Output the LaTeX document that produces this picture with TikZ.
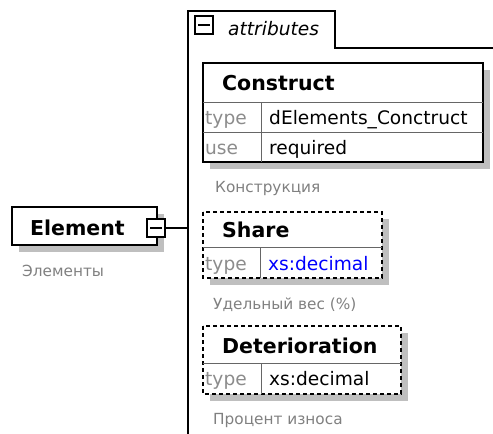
\documentclass[tikz,border=0pt]{standalone}
\usepackage{fontspec}
\setmainfont{DejaVu Sans}
\begin{document}
\begin{tikzpicture}[x=1pt,y=-1pt,
    shade/.style={fill=black!25,draw=none},
    box/.style={draw,line width=1.6pt,fill=white},
    optbox/.style={box,dash pattern=on 4pt off 3pt},
    grid/.style={draw=black!60,line width=1pt},
    title/.style={anchor=base west,inner sep=0pt,font=\fontsize{20.5}{24}\selectfont\bfseries},
    cell/.style={anchor=base west,inner sep=0pt,font=\fontsize{18.6}{22}\selectfont},
    key/.style={cell,text=black!45},
    note/.style={anchor=base west,inner sep=0pt,font=\fontsize{15.3}{18}\selectfont,text=black!50},
    minusbox/.style={draw,fill=white,line width=1.2pt,minimum size=18pt,inner sep=0pt}]

        \useasboundingbox (0,0) rectangle (493,434);

        % attributes tab and trunk
        \draw[line width=1.6pt] (188,434) -- (188,11) -- (335,11) -- (335,48) -- (493,48);
        \node[minusbox] (attrminus) at (204,25) {};
        \draw[line width=1.2pt] ([xshift=4pt]attrminus.west) -- ([xshift=-4pt]attrminus.east);
        \node[cell,font=\fontsize{18.6}{22}\selectfont\itshape] (attrs) at (228,35) {attributes};

        % Element
        \fill[shade] (19,214) rectangle (164,252);
        \draw[box] (12,207) rectangle (157,245);
        \node[title] (element) at (30,235) {Element};
        \node[note] (elementnote) at (22,276) {Элементы};
        \node[minusbox] (elemminus) at (156,228) {};
        \draw[line width=1.2pt] ([xshift=4pt]elemminus.west) -- ([xshift=-4pt]elemminus.east);
        \coordinate (trunk) at (188,228);
        \draw[line width=1.4pt] (elemminus.east) -- (trunk);

        % Construct
        \fill[shade] (210,70) rectangle (490,169);
        \draw[box] (203,63) rectangle (483,162);
        \draw[grid] (203,102) -- (483,102);
        \draw[grid] (203,132) -- (483,132);
        \draw[grid] (261,102) -- (261,162);
        \node[title] (construct) at (222,90.5) {Construct};
        \node[key] (constype) at (205,124) {type};
        \node[cell] (constypeval) at (269,124) {dElements\_Conctruct};
        \node[key] (consuse) at (205,154) {use};
        \node[cell] (consuseval) at (269,154) {required};
        \node[note] (consnote) at (215,192) {Конструкция};

        % Share
        \fill[shade] (210,219) rectangle (389,285);
        \draw[optbox] (203,212) rectangle (382,278);
        \draw[grid] (203,247) -- (382,247);
        \draw[grid] (260,247) -- (260,278);
        \node[title] (share) at (222,237) {Share};
        \node[key] (sharetype) at (205,270) {type};
        \node[cell,text=blue] (sharetypeval) at (268,270) {xs:decimal};
        \node[note] (sharenote) at (213,309) {Удельный вес (\%)};

        % Deterioration
        \fill[shade] (210,333) rectangle (408,401);
        \draw[optbox] (203,326) rectangle (401,394);
        \draw[grid] (203,363) -- (401,363);
        \draw[grid] (261,363) -- (261,394);
        \node[title] (deterioration) at (222,353) {Deterioration};
        \node[key] (dettype) at (205,385) {type};
        \node[cell] (dettypeval) at (269,385) {xs:decimal};
        \node[note] (detnote) at (213,424) {Процент износа};
    \end{tikzpicture}
\end{document}
